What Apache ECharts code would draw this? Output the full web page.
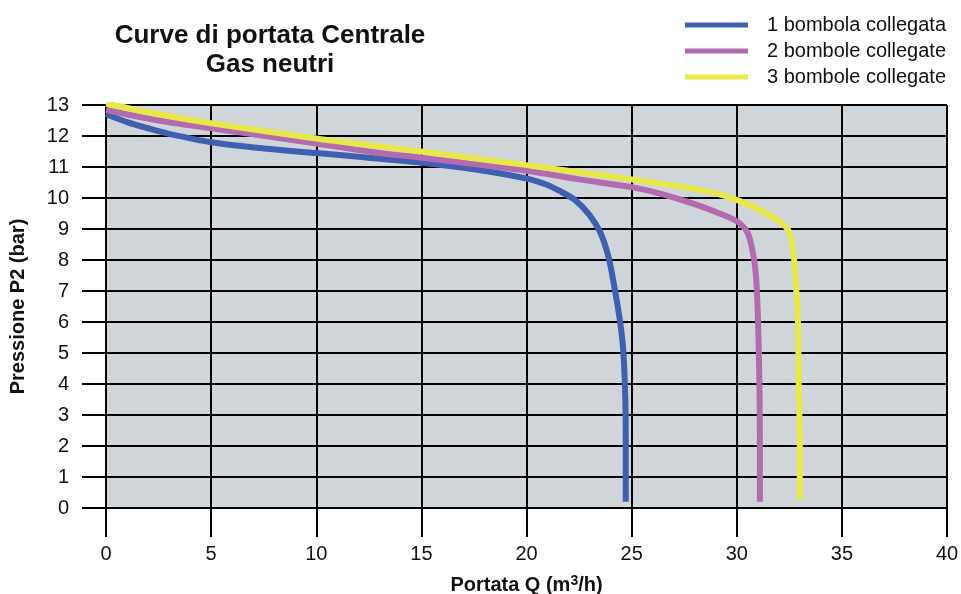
<!DOCTYPE html>
<html>
<head>
<meta charset="utf-8">
<script src="https://cdn.jsdelivr.net/npm/echarts@6/dist/echarts.min.js"></script>
<style>
  html, body { margin: 0; padding: 0; background: #fff; }
  #main { width: 961px; height: 594px; }
</style>
</head>
<body>
<div id="main"></div>
<script>
// curve points: [portata Q, pressione P2]
var una = [[0,12.7],[1,12.45],[2,12.25],[3,12.07],[5,11.8],[7.5,11.6],[10,11.45],[12.5,11.3],[15,11.14],
  [17.5,10.93],[20,10.63],[21,10.42],[21.6,10.22],[22.3,9.94],[23,9.45],[23.5,8.9],[23.9,8.1],
  [24.2,7.05],[24.44,6.06],[24.6,5.1],[24.7,3.5],[24.72,2],[24.72,0.2]];
var due = [[0,12.84],[2.5,12.5],[5,12.25],[10,11.76],[13,11.45],[15,11.3],[20,10.88],[22.5,10.6],
  [25,10.35],[26.5,10.12],[28,9.8],[29,9.55],[30,9.25],[30.5,8.9],[30.75,8.3],[30.9,7.6],
  [31,6.3],[31.08,4],[31.1,2],[31.1,0.2]];
var tre = [[0,13.05],[2.5,12.7],[5,12.41],[10,11.92],[13.5,11.62],[15,11.5],[20,11.06],[25,10.6],
  [27.5,10.35],[29,10.15],[30,9.94],[31,9.65],[31.7,9.4],[32.2,9.15],[32.5,8.9],[32.7,8.2],
  [32.8,7.3],[32.9,6.3],[32.95,4],[33,2],[33,0.25]];
var nomi = ['1 bombola collegata', '2 bombole collegate', '3 bombole collegate'];
var colori = ['#3f5fb0', '#b36aae', '#e9e84a'];

var chart = echarts.init(document.getElementById('main'));
var font = '"Liberation Sans", Arial, sans-serif';

function serie(i, dati) {
  return {
    name: nomi[i],
    type: 'line',
    data: dati,
    smooth: 0.3,
    symbol: 'none',
    color: colori[i],
    lineStyle: { width: 6, color: colori[i] },
    z: 5
  };
}

var option = {
  animation: false,
  title: {
    text: 'Curve di portata Centrale\nGas neutri',
    left: 265,
    top: 16,
    textAlign: 'center',
    textStyle: { fontFamily: font, fontSize: 26, fontWeight: 'bold', color: '#111', lineHeight: 29 }
  },
  legend: {
    data: nomi,
    orient: 'vertical',
    left: 685,
    top: 15,
    padding: 0,
    icon: 'rect',
    itemWidth: 63,
    itemHeight: 5,
    itemGap: 6,
    textStyle: { fontFamily: font, fontSize: 20, color: '#111', lineHeight: 20, padding: [0, 0, 0, 14] }
  },
  grid: {
    left: 106, right: 14, top: 105, bottom: 86,
    outerBoundsMode: 'none',
    show: true, backgroundColor: '#d0d5d9', borderWidth: 0
  },
  xAxis: {
    type: 'value', min: 0, max: 40, interval: 5,
    name: 'Portata Q (m{sup|3}/h)',
    nameLocation: 'middle', nameGap: 66,
    nameTextStyle: {
      fontFamily: font, fontSize: 20, fontWeight: 'bold', color: '#111',
      rich: { sup: { fontFamily: font, fontSize: 14, fontWeight: 'bold', color: '#111', verticalAlign: 'top', padding: [0, 0, 8, 0] } }
    },
    axisLine: { show: true, lineStyle: { color: '#000', width: 2 } },
    axisTick: { show: true, length: 29, lineStyle: { color: '#000', width: 2 } },
    axisLabel: { fontFamily: font, fontSize: 20, color: '#111', margin: 36 },
    splitLine: { show: true, lineStyle: { color: '#000', width: 2 } }
  },
  yAxis: {
    type: 'value', min: 0, max: 13, interval: 1,
    name: 'Pressione P2 (bar)',
    nameLocation: 'middle', nameGap: 78,
    nameTextStyle: { fontFamily: font, fontSize: 20, fontWeight: 'bold', color: '#111' },
    axisLine: { show: true, lineStyle: { color: '#000', width: 2 } },
    axisTick: { show: true, length: 24, lineStyle: { color: '#000', width: 2 } },
    axisLabel: { fontFamily: font, fontSize: 20, color: '#111', margin: 37 },
    splitLine: { show: true, lineStyle: { color: '#000', width: 2 } }
  },
  series: [serie(0, una), serie(1, due), serie(2, tre)]
};
chart.setOption(option);
window.addEventListener('resize', chart.resize);
</script>
</body>
</html>
